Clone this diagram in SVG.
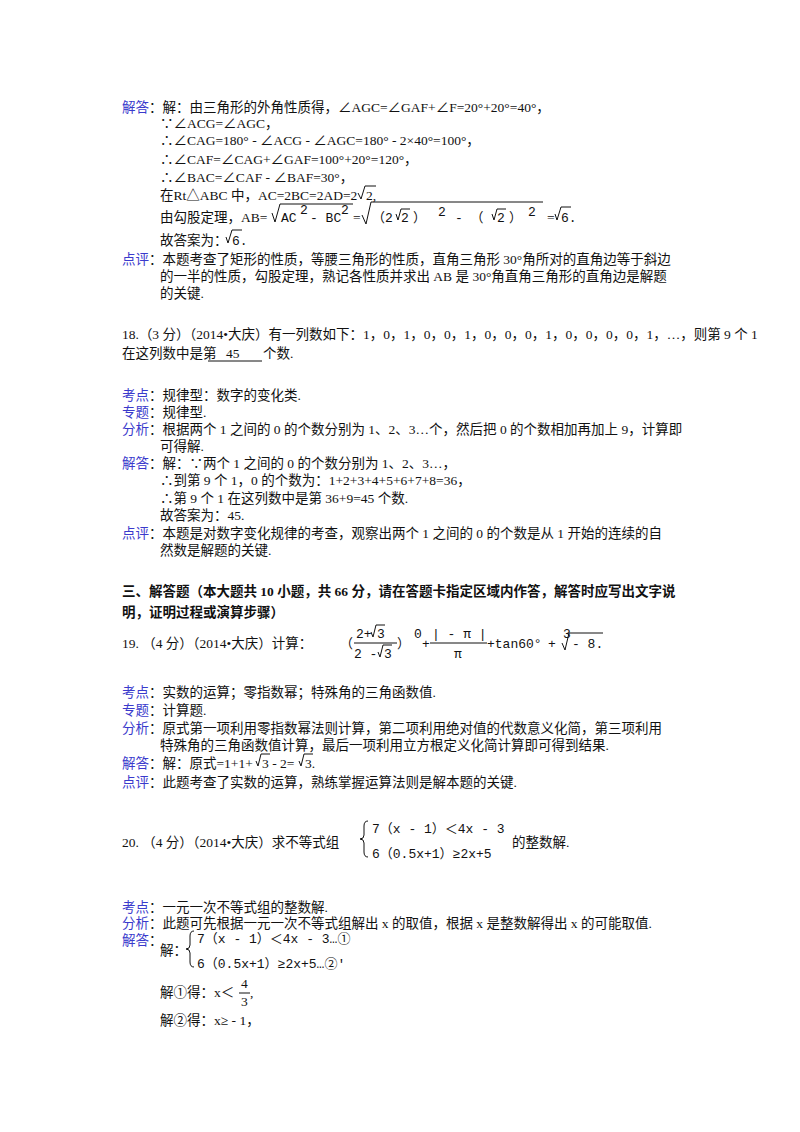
<svg xmlns="http://www.w3.org/2000/svg" width="800" height="1132" viewBox="0 0 800 1132">
<style>
text{font-family:"Liberation Serif","Noto Sans CJK SC",serif;font-size:13.5px;fill:#111}
.l{fill:#3a3acc}
.b{font-weight:bold}
.m{font-family:"Liberation Mono","Noto Sans CJK SC",monospace;font-size:13px}
path,line{stroke:#111;stroke-width:1;fill:none}
</style>
<rect width="800" height="1132" fill="#fff"/>
<g id="p17">
<text x="122" y="112"><tspan class="l">解答</tspan>：解：由三角形的外角性质得，∠AGC=∠GAF+∠F=20°+20°=40°，</text>
<text x="160" y="128">∵∠ACG=∠AGC，</text>
<text x="160" y="145">∴∠CAG=180° - ∠ACG - ∠AGC=180° - 2×40°=100°，</text>
<text x="160" y="164">∴∠CAF=∠CAG+∠GAF=100°+20°=120°，</text>
<text x="160" y="182">∴∠BAC=∠CAF - ∠BAF=30°，</text>
<text x="160" y="200">在Rt△ABC 中，AC=2BC=2AD=2</text>
<path d="M358,193 l3,6 l4,-13 h11"/><text x="366" y="200">2,</text>
<text x="160" y="222">由勾股定理，AB=</text>
<path d="M272,213 l3,9 l5,-18 h73"/>
<text class="m" x="281" y="222">AC</text><text class="m" x="300" y="214" font-size="10">2</text><text class="m" x="310" y="222">- BC</text><text class="m" x="341" y="214" font-size="10">2</text>
<text x="353" y="222">=</text>
<path d="M362,215 l4,9 l5,-22 h172"/>
<text class="m" x="372" y="222">（2</text><path d="M396,214 l2,6 l3,-11 h9"/><text class="m" x="401" y="222">2</text><text class="m" x="413" y="222">）</text>
<text class="m" x="438" y="216" font-size="10">2</text><text class="m" x="455" y="222">- （</text><path d="M492,214 l2,6 l3,-11 h9"/><text class="m" x="497" y="222">2</text><text class="m" x="509" y="222">）</text><text class="m" x="528" y="216" font-size="10">2</text>
<text x="547" y="222">=</text><path d="M555,214 l2,6 l4,-13 h10"/><text class="m" x="561" y="222">6.</text>
<text x="160" y="245">故答案为：</text><path d="M226,237 l2,6 l4,-13 h10"/><text class="m" x="232" y="245">6.</text>
<text x="122" y="264"><tspan class="l">点评</tspan>：本题考查了矩形的性质，等腰三角形的性质，直角三角形 30°角所对的直角边等于斜边</text>
<text x="160" y="281">的一半的性质，勾股定理，熟记各性质并求出 AB 是 30°角直角三角形的直角边是解题</text>
<text x="160" y="298">的关键.</text>
</g>
<g id="p18">
<text x="122" y="339">18.（3 分）（2014•大庆）有一列数如下：1，0，1，0，0，1，0，0，0，1，0，0，0，0，1，…，则第 9 个 1</text>
<text x="122" y="358">在这列数中是第</text><text x="226" y="358">45</text><text x="263" y="358">个数.</text>
<line x1="208" y1="361" x2="262" y2="361"/>
<text x="122" y="400"><tspan class="l">考点</tspan>：规律型：数字的变化类.</text>
<text x="122" y="417"><tspan class="l">专题</tspan>：规律型.</text>
<text x="122" y="434"><tspan class="l">分析</tspan>：根据两个 1 之间的 0 的个数分别为 1、2、3…个，然后把 0 的个数相加再加上 9，计算即</text>
<text x="160" y="451">可得解.</text>
<text x="122" y="468"><tspan class="l">解答</tspan>：解：∵两个 1 之间的 0 的个数分别为 1、2、3…，</text>
<text x="160" y="485">∴到第 9 个 1，0 的个数为：1+2+3+4+5+6+7+8=36，</text>
<text x="160" y="503">∴第 9 个 1 在这列数中是第 36+9=45 个数.</text>
<text x="160" y="520">故答案为：45.</text>
<text x="122" y="538"><tspan class="l">点评</tspan>：本题是对数字变化规律的考查，观察出两个 1 之间的 0 的个数是从 1 开始的连续的自</text>
<text x="160" y="555">然数是解题的关键.</text>
</g>
<g id="sec3">
<text class="b" x="122" y="596">三、解答题（本大题共 10 小题，共 66 分，请在答题卡指定区域内作答，解答时应写出文字说</text>
<text class="b" x="122" y="617">明，证明过程或演算步骤）</text>
</g>
<g id="p19">
<text x="122" y="648">19. （4 分）（2014•大庆）计算：</text>
<text class="m" x="340" y="648">（</text>
<text class="m" x="356" y="638">2+</text><path d="M371,632 l2,5 l3,-12 h9"/><text class="m" x="377" y="638">3</text>
<line x1="354" y1="643" x2="397" y2="643"/>
<text class="m" x="354" y="658">2 -</text><path d="M378,652 l2,5 l3,-12 h9"/><text class="m" x="384" y="658">3</text>
<text class="m" x="397" y="648">）</text><text class="m" x="414" y="638" font-size="10">0</text>
<text class="m" x="422" y="648">+</text>
<text class="m" x="432" y="638">| - π |</text><line x1="430" y1="643" x2="487" y2="643"/><text class="m" x="454" y="658">π</text>
<text class="m" x="487" y="648">+tan60°</text><text class="m" x="548" y="648">+</text>
<text class="m" x="563" y="638" font-size="9">3</text><path d="M562,643 l3,7 l4,-17 h34"/><text class="m" x="572" y="648">- 8.</text>
<text x="122" y="697"><tspan class="l">考点</tspan>：实数的运算；零指数幂；特殊角的三角函数值.</text>
<text x="122" y="715"><tspan class="l">专题</tspan>：计算题.</text>
<text x="122" y="733"><tspan class="l">分析</tspan>：原式第一项利用零指数幂法则计算，第二项利用绝对值的代数意义化简，第三项利用</text>
<text x="160" y="750">特殊角的三角函数值计算，最后一项利用立方根定义化简计算即可得到结果.</text>
<text x="122" y="768"><tspan class="l">解答</tspan>：解：原式=1+1+</text><path d="M256,761 l2,5 l3,-12 h9"/><text x="262" y="768">3 - 2=</text><path d="M299,761 l2,5 l3,-12 h9"/><text x="305" y="768">3.</text>
<text x="122" y="787"><tspan class="l">点评</tspan>：此题考查了实数的运算，熟练掌握运算法则是解本题的关键.</text>
</g>
<g id="p20">
<text x="122" y="847">20. （4 分）（2014•大庆）求不等式组</text>
<path d="M368,821 q-4,0 -4,5 v9 q0,4 -4,4 q4,0 4,4 v9 q0,5 4,5"/>
<text class="m" x="372" y="833">7（x - 1）＜4x - 3</text>
<text class="m" x="372" y="858">6（0.5x+1）≥2x+5</text>
<text x="512" y="847">的整数解.</text>
<text x="122" y="912"><tspan class="l">考点</tspan>：一元一次不等式组的整数解.</text>
<text x="122" y="928"><tspan class="l">分析</tspan>：此题可先根据一元一次不等式组解出 x 的取值，根据 x 是整数解得出 x 的可能取值.</text>
<text x="122" y="945"><tspan class="l">解答</tspan>：</text>
<text x="160" y="955">解：</text>
<path d="M194,931 q-4,0 -4,5 v9 q0,4 -4,4 q4,0 4,4 v9 q0,5 4,5"/>
<text class="m" x="197" y="943">7（x - 1）＜4x - 3…①</text>
<text class="m" x="197" y="968">6（0.5x+1）≥2x+5…②'</text>
<text x="160" y="997">解①得：x＜</text><text x="241" y="988">4</text><line x1="239" y1="993" x2="250" y2="993"/><text x="241" y="1006">3</text><text x="250" y="997">,</text>
<text x="160" y="1025">解②得：x≥ - 1，</text>
</g>
</svg>
